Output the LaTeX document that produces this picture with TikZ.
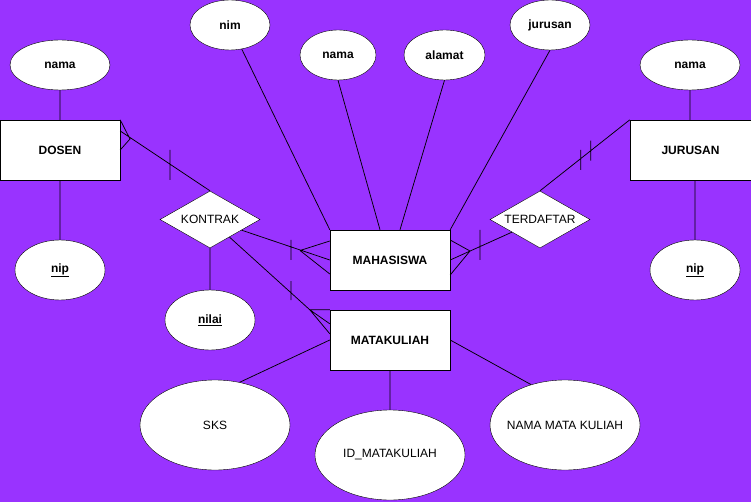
\documentclass[tikz,border=0pt]{standalone}
\usepackage{fontspec}
\setmainfont{Liberation Sans}
\usetikzlibrary{shapes.geometric,calc}
\definecolor{bgpurple}{HTML}{9933FF}
\tikzset{
every node/.style={font=\fontsize{12}{14}\selectfont},
entity/.style={draw,fill=white,minimum width=120pt,minimum height=60pt,inner sep=0pt,font=\fontsize{12}{14}\selectfont\bfseries},
attr/.style={draw,fill=white,ellipse,inner sep=0pt,font=\fontsize{12}{14}\selectfont\bfseries},
bigattr/.style={draw,fill=white,ellipse,inner sep=0pt,minimum width=150pt,minimum height=90pt},
rel/.style={draw,fill=white,diamond,inner sep=0pt,shape aspect=1.7,minimum width=100pt,minimum height=57pt},
link/.style={line width=0.75pt}
}
\begin{document}
\begin{tikzpicture}[x=1pt,y=-1pt]
\fill[bgpurple](0,0)rectangle(751,502);
\useasboundingbox(0,0)rectangle(751,502);
\node[entity](dosen)at(60,150){DOSEN};
\node[entity,minimum width=121pt](jurusan)at(690.5,150){JURUSAN};
\node[entity](mhs)at(390,260){MAHASISWA};
\node[entity](mk)at(390,340){MATAKULIAH};
\node[attr,minimum width=100pt,minimum height=50pt](dnama)at(60,65){nama};
\node[attr,minimum width=90pt,minimum height=60pt](dnip)at(60,270){\underline{nip}};
\node[attr,minimum width=80pt,minimum height=50pt](nim)at(230,25){nim};
\node[attr,minimum width=76pt,minimum height=50pt](mnama)at(338,55){nama};
\node[attr,minimum width=81pt,minimum height=50pt](alamat)at(444.5,55){alamat};
\node[attr,minimum width=80pt,minimum height=50pt](mjur)at(550,25){jurusan};
\node[attr,minimum width=100pt,minimum height=50pt](jnama)at(690,65){nama};
\node[attr,minimum width=90pt,minimum height=60pt](jnip)at(695,270){\underline{nip}};
\node[attr,minimum width=90pt,minimum height=60pt](nilai)at(210,320){\underline{nilai}};
\node[rel](kontrak)at(210,219.5){KONTRAK};
\node[rel](terdaftar)at(540,219.5){TERDAFTAR};
\node[bigattr](sks)at(215,425){SKS};
\node[bigattr](idmk)at(390,455){\makebox[90pt]{ID\_MATAKULIAH}};
\node[bigattr](nmk)at(565,425){\makebox[90pt]{NAMA MATA KULIAH}};
\coordinate(dfoot)at(130,139);
\coordinate(mfoot)at(300,250.5);
\coordinate(kfoot)at($(mk.north west)+(-20,0)$);
\coordinate(tfoot)at(470,251);
\draw[link](dnama)--(dosen)
(dosen)--(dnip)
(jnama)--(jurusan.north -| jnama)
(jurusan.south -| jnip)--(jnip)
(nim)--(mhs.north west)
(mnama.south)--($(mhs.north)+(-10,0)$)
(alamat.south)--($(mhs.north)+(10,0)$)
(mjur.south)--(mhs.north east);
\draw[link]($(dosen.east)+(0,-19)$)--(kontrak.north)
(dfoot)--(dosen.north east)
(dfoot)--(dosen.east)
(170,150)--(170,180);
\draw[link](kontrak)--(mhs.west)
(mfoot)--($(mhs.west)+(0,-19)$)
(mfoot)--($(mhs.west)+(0,14)$)
(291,240)--(291,260);
\draw[link](kontrak)--(kfoot)
(kfoot)--(mk.north west)
(kfoot)--($(mk.north west)+(0,14)$)
(kfoot)--($(mk.north west)+(0,24)$)
(291,281)--(291,300);
\draw[link](terdaftar)--(mhs.east)
(tfoot)--($(mhs.east)+(0,-20)$)
(tfoot)--($(mhs.east)+(0,15)$)
(480,230)--(480,260);
\draw[link](terdaftar.north)--(jurusan.north west)
(580.7,150)--(580.7,170)
(590.7,140.7)--(590.7,160.7);
\draw[link](kontrak)--(nilai)
(mk.west)--(sks.60)
(mk.east)--(nmk.130)
(mk)--(idmk);
\end{tikzpicture}
\end{document}
